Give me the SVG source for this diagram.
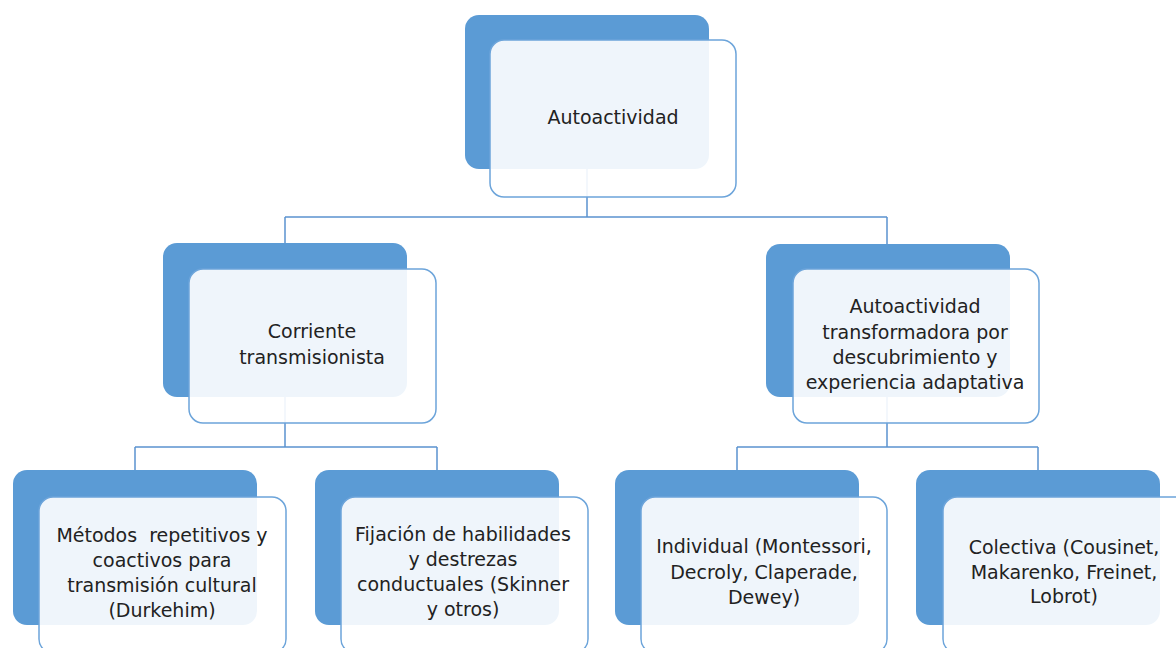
<svg xmlns="http://www.w3.org/2000/svg" width="1176" height="648" viewBox="0 0 1176 648">
<style>
.bg{fill:#5B9BD5;}
.card{fill:#FFFFFF;fill-opacity:0.9;stroke:#6CA4DA;stroke-width:1.5;}
.conn{fill:none;stroke:#5B93CF;stroke-width:1.5;}
text{font-family:"DejaVu Sans","Liberation Sans",sans-serif;font-size:19px;fill:#222222;text-anchor:middle;white-space:pre;}
</style>
<rect width="1176" height="648" fill="#FFFFFF"/>
<g id="connectors">
<path class="conn" d="M587,169 V217 M285,217 H887 M285,217 V243 M887,217 V244"/>
<path class="conn" d="M285,397 V447 M135,447 H437 M135,447 V470 M437,447 V470"/>
<path class="conn" d="M887,397 V447 M737,447 H1038 M737,447 V470 M1038,447 V470"/>
</g>
<g id="node-autoactividad">
<rect class="bg" x="465" y="15" width="244" height="154" rx="14"/>
<rect class="card" x="490" y="40" width="246" height="157" rx="14"/>
<text x="613" y="124">Autoactividad</text>
</g>
<g id="node-corriente">
<rect class="bg" x="163" y="243" width="244" height="154" rx="14"/>
<rect class="card" x="189" y="269" width="247" height="154" rx="14"/>
<text x="312" y="338">Corriente</text>
<text x="312" y="364">transmisionista</text>
</g>
<g id="node-transformadora">
<rect class="bg" x="766" y="244" width="244" height="153" rx="14"/>
<rect class="card" x="793" y="269" width="246" height="154" rx="14"/>
<text x="915" y="313">Autoactividad</text>
<text x="915" y="339">transformadora por</text>
<text x="915" y="364">descubrimiento y</text>
<text x="915" y="389">experiencia adaptativa</text>
</g>
<g id="node-metodos">
<rect class="bg" x="13" y="470" width="244" height="155" rx="14"/>
<rect class="card" x="39" y="497" width="247" height="156" rx="14"/>
<text x="162" y="542">Métodos  repetitivos y</text>
<text x="162" y="567">coactivos para</text>
<text x="162" y="592">transmisión cultural</text>
<text x="162" y="617">(Durkehim)</text>
</g>
<g id="node-fijacion">
<rect class="bg" x="315" y="470" width="244" height="155" rx="14"/>
<rect class="card" x="341" y="497" width="247" height="156" rx="14"/>
<text x="463" y="541">Fijación de habilidades</text>
<text x="463" y="566">y destrezas</text>
<text x="463" y="591">conductuales (Skinner</text>
<text x="463" y="616">y otros)</text>
</g>
<g id="node-individual">
<rect class="bg" x="615" y="470" width="244" height="155" rx="14"/>
<rect class="card" x="641" y="497" width="246" height="156" rx="14"/>
<text x="764" y="553">Individual (Montessori,</text>
<text x="764" y="579">Decroly, Claperade,</text>
<text x="764" y="604">Dewey)</text>
</g>
<g id="node-colectiva">
<rect class="bg" x="916" y="470" width="244" height="155" rx="14"/>
<rect class="card" x="943" y="497" width="246" height="156" rx="14"/>
<text x="1064" y="554">Colectiva (Cousinet,</text>
<text x="1064" y="579">Makarenko, Freinet,</text>
<text x="1064" y="603">Lobrot)</text>
</g>
</svg>
